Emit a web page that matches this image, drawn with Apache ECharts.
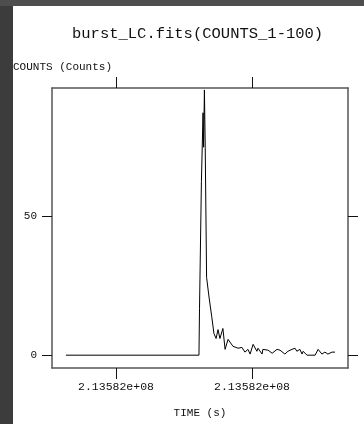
<!DOCTYPE html>
<html>
<head>
<meta charset="utf-8">
<script src="https://cdn.jsdelivr.net/npm/echarts@6/dist/echarts.min.js"></script>
<style>
  html, body { margin: 0; padding: 0; background: #fff; }
  #chart { width: 364px; height: 424px; }
</style>
</head>
<body>
<div id="chart"></div>
<script>
// seconds after T0
const T0 = 213582000;
const times = [
  31.6, 80.5, 80.7, 81.4, 82.0, 82.2, 82.5, 82.8, 83.3, 84.2, 85.2, 86.0,
  86.8, 87.5, 88.2, 89.3, 90.1, 91.2, 91.9, 93.0, 94.9, 96.3, 97.4, 98.5,
  99.3, 100.4, 101.8, 102.2, 103.7, 104.0, 105.9, 107.4, 109.2, 110.3, 112.1,
  113.2, 114.7, 115.8, 116.5, 117.6, 118.4, 118.8, 120.2, 123.2, 124.3, 125.7,
  126.8, 127.9, 129.4, 130.5
];
const counts = [
  0, 0, 16.7, 62.4, 87.2, 74.8, 95.4, 74.8, 28.0, 20.9, 13.8, 7.8,
  6.0, 9.2, 6.0, 9.6, 2.1, 5.7, 5.7, 3.2, 2.5, 2.8, 1.1, 2.1,
  0.4, 3.9, 1.4, 2.5, 0.4, 2.1, 1.8, 0.7, 2.1, 1.8, 0.4,
  1.4, 2.1, 2.5, 1.4, 2.1, 0.4, 1.4, 0, 0, 2.1, 0.4,
  1.1, 0.4, 1.1, 1.1
];
const timeTicks = [50, 100];
const countTicks = [0, 50];

const chart = echarts.init(document.getElementById("chart"));
const mono = "Liberation Mono";
const frame = { show: true, onZero: false, lineStyle: { color: "#555", width: 1.5 } };
const tick = (vals, len) => ({ customValues: vals, length: len, lineStyle: { color: "#111", width: 1 } });

const fmtTime = (v) => (T0 + v).toExponential(5).replace("e+8", "e+08");

chart.setOption({
  animation: false,
  backgroundColor: "#fff",
  title: {
    text: "burst_LC.fits(COUNTS_1-100)",
    left: 72,
    top: 26,
    padding: 0,
    textStyle: { fontFamily: mono, fontSize: 15.5, fontWeight: "normal", color: "#111" },
  },
  graphic: [
    { type: "rect", shape: { x: 0, y: 0, width: 13, height: 424 }, style: { fill: "#3c3c3c" } },
    { type: "rect", shape: { x: 0, y: 0, width: 364, height: 6 }, style: { fill: "#4e4e4e" } },
    {
      type: "text", left: 13, top: 62,
      style: { text: "COUNTS (Counts)", fontFamily: mono, fontSize: 11, fill: "#111" },
    },
  ],
  grid: { left: 52, right: 16, top: 88, bottom: 52 },
  xAxis: [
    {
      type: "value", position: "bottom", min: 26.47, max: 135.29,
      name: "TIME (s)", nameLocation: "middle", nameGap: 40,
      nameTextStyle: { fontFamily: mono, fontSize: 11, color: "#111" },
      axisLine: frame,
      axisTick: tick(timeTicks, 11),
      axisLabel: {
        customValues: timeTicks, margin: 13, formatter: fmtTime,
        fontFamily: mono, fontSize: 11.5, color: "#111",
      },
      splitLine: { show: false },
    },
    {
      type: "value", position: "top", min: 26.47, max: 135.29,
      axisLine: frame,
      axisTick: tick(timeTicks, 11),
      axisLabel: { show: false },
      splitLine: { show: false },
    },
  ],
  yAxis: [
    {
      type: "value", position: "left", min: -4.61, max: 96.1,
      axisLine: frame,
      axisTick: tick(countTicks, 10),
      axisLabel: { customValues: countTicks, margin: 15, fontFamily: mono, fontSize: 11, color: "#111" },
      splitLine: { show: false },
    },
    {
      type: "value", position: "right", min: -4.61, max: 96.1,
      axisLine: frame,
      axisTick: tick(countTicks, 10),
      axisLabel: { show: false },
      splitLine: { show: false },
    },
  ],
  series: [
    {
      type: "line",
      xAxisIndex: 0,
      yAxisIndex: 0,
      showSymbol: false,
      lineStyle: { color: "#000", width: 1 },
      data: times.map((t, i) => [t, counts[i]]),
    },
  ],
});
</script>
</body>
</html>
